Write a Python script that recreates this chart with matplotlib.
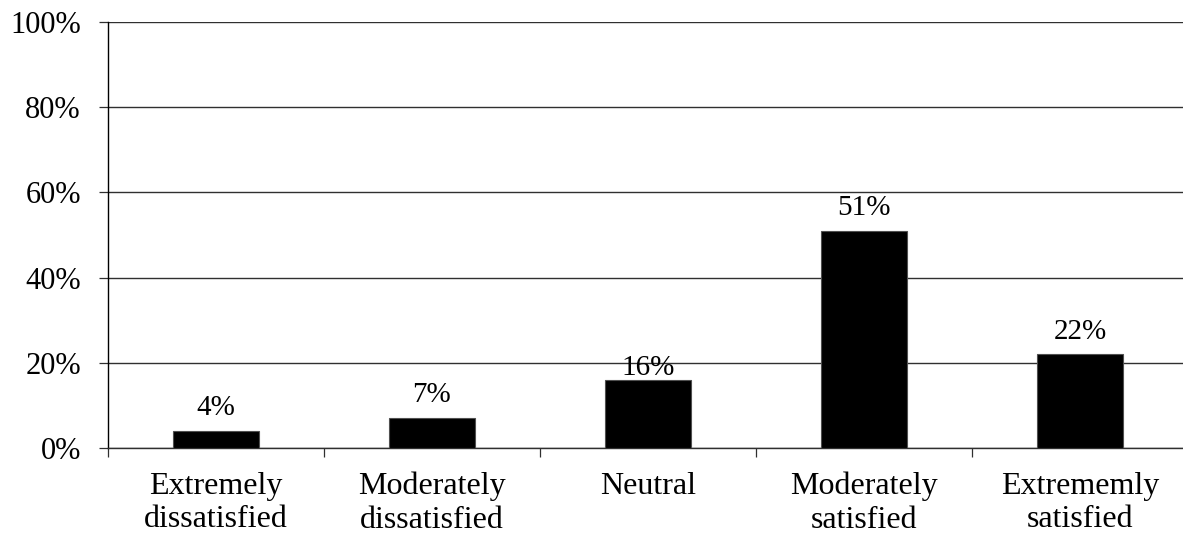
import matplotlib
matplotlib.use("Agg")
import matplotlib.pyplot as plt
from matplotlib.ticker import FixedLocator, PercentFormatter

plt.rcParams["font.family"] = ["Liberation Serif", "DejaVu Serif"]

categories = ["Extremely\ndissatisfied", "Moderately\ndissatisfied", "Neutral",
              "Moderately\nsatisfied", "Extrememly\nsatisfied"]
values = [4, 7, 16, 51, 22]
yticks = [0, 20, 40, 60, 80, 100]

fig = plt.figure(figsize=(11.83, 5.38), dpi=100)
# axes runs a little past the right edge, like the original export
ax = fig.add_axes([108 / 1183, 90 / 538, 1080 / 1183, 426 / 538])

x = list(range(len(categories)))
bars = ax.bar(x, values, width=0.4, color="black", edgecolor="#505050", linewidth=0.8, zorder=3)

# label offsets in points (the neutral label sits close to its bar)
offsets = [7, 7, -1, 7, 7]
for b, v, off in zip(bars, values, offsets):
    ax.annotate(f"{v}%", (b.get_x() + b.get_width() / 2, b.get_height()),
                xytext=(0, off), textcoords="offset points",
                ha="center", va="bottom", fontsize=21)

ax.set_xlim(-0.5, len(categories) - 0.5)
ax.set_ylim(0, 100)
ax.yaxis.set_major_locator(FixedLocator(yticks))
ax.yaxis.set_major_formatter(PercentFormatter(decimals=0))
ax.grid(axis="y", color="#303030", linewidth=1.0, zorder=0)

ax.set_xticks(x)
ax.set_xticklabels(categories, fontsize=23, linespacing=1.2)
ax.tick_params(axis="x", length=0, pad=17)
ax.set_xticks([i - 0.5 for i in range(len(categories) + 1)], minor=True)
ax.tick_params(axis="x", which="minor", length=6.5, width=0.9, color="#303030")
ax.tick_params(axis="y", length=6.5, width=0.9, color="#303030", labelsize=22, pad=13)

for side in ["top", "right"]:
    ax.spines[side].set_visible(False)
ax.spines["left"].set_linewidth(1.0)
ax.spines["bottom"].set_linewidth(1.0)
ax.spines["bottom"].set_color("#303030")

plt.savefig("out.png", dpi=100)
